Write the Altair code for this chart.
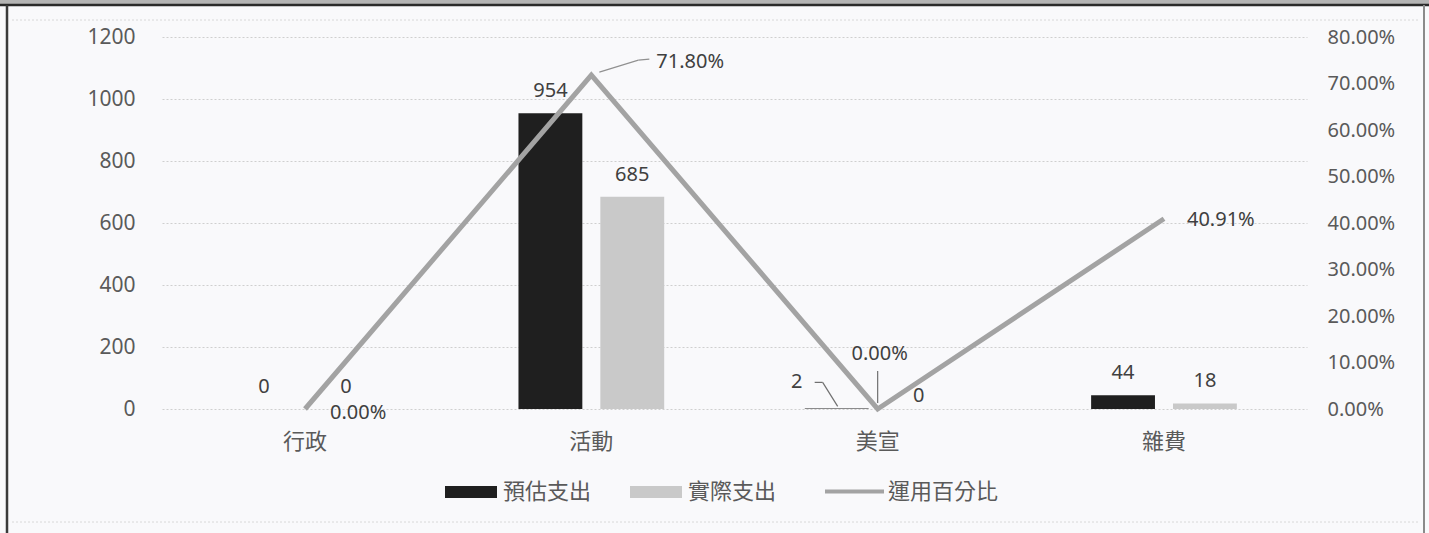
import altair as alt
import pandas as pd

categories = ["行政", "活動", "美宣", "雜費"]
estimated = [0, 954, 2, 44]
actual = [0, 685, 0, 18]
usage_pct = [0.0, 0.718, 0.0, 0.4091]
pct_labels = ["0.00%", "71.80%", "0.00%", "40.91%"]
series_names = ["預估支出", "實際支出"]
line_name = "運用百分比"
left_ticks = [0, 200, 400, 600, 800, 1000, 1200]
right_ticks = [0, 0.1, 0.2, 0.3, 0.4, 0.5, 0.6, 0.7, 0.8]

bars_df = pd.DataFrame({
    "cat": categories * 2,
    "series": [series_names[0]] * 4 + [series_names[1]] * 4,
    "value": estimated + actual,
})
line_df = pd.DataFrame({
    "cat": categories,
    "pct": usage_pct,
    "label": pct_labels,
    "series": [line_name] * 4,
})
one = pd.DataFrame({"k": [0]})

NUM_FONT = "Noto Sans"
CJK_FONT = "Noto Sans CJK TC"
AX_COL = "#5a5a5a"
LBL_COL = "#404040"
LINE_COL = "#a3a3a3"

W, H = 1145, 372
PL, PT = 162, 37

x_enc = alt.X(
    "cat:N", sort=categories, title=None,
    scale=alt.Scale(paddingInner=0.491, paddingOuter=0.245),
    axis=alt.Axis(labelFont=CJK_FONT, labelFontSize=22, labelColor=AX_COL,
                  labelPadding=22, domain=False, ticks=False, labelAngle=0),
)
xoff_enc = alt.XOffset("series:N", sort=series_names,
                       scale=alt.Scale(paddingInner=0.22, paddingOuter=0))
y_left = alt.Y(
    "value:Q", title=None,
    scale=alt.Scale(domain=[0, 1200], nice=False),
    axis=alt.Axis(values=left_ticks, format="d", labelFont=NUM_FONT, labelFontSize=21,
                  labelColor=AX_COL, labelPadding=27, domain=False, ticks=False,
                  grid=True, gridColor="#cfcfcf", gridDash=[2, 2], gridWidth=1),
)
y_right = alt.Y(
    "pct:Q", title=None,
    scale=alt.Scale(domain=[0, 0.8], nice=False),
    axis=alt.Axis(values=right_ticks, format=".2%", orient="right",
                  labelFont=NUM_FONT, labelFontSize=20, labelColor=AX_COL,
                  labelPadding=20, domain=False, ticks=False, grid=False),
)

bars = alt.Chart(bars_df).mark_bar().encode(
    x=x_enc, xOffset=xoff_enc, y=y_left,
    color=alt.Color(
        "series:N", sort=series_names,
        scale=alt.Scale(domain=series_names, range=["#1f1f1f", "#c9c9c9"]),
        legend=alt.Legend(
            title=None, orient="none", direction="horizontal",
            legendX=445 - PL, legendY=466 - PT, padding=0,
            symbolType="M-1,-0.23L1,-0.23L1,0.23L-1,0.23Z", symbolSize=2704,
            symbolStrokeWidth=0, labelFont=CJK_FONT, labelFontSize=22,
            labelColor=AX_COL, labelOffset=6, columnPadding=38,
        ),
    ),
)

bar_text = alt.Chart(bars_df).transform_filter(
    alt.datum.cat != "美宣"
).mark_text(font=NUM_FONT, fontSize=20, color=LBL_COL, dy=-22, baseline="middle").encode(
    x=x_enc, xOffset=xoff_enc, y=y_left, text=alt.Text("value:Q")
)

mei_est = alt.Chart(bars_df).transform_filter(
    (alt.datum.cat == "美宣") & (alt.datum.series == series_names[0])
).mark_text(font=NUM_FONT, fontSize=20, color=LBL_COL, dx=-40, dy=-26, baseline="middle").encode(
    x=x_enc, xOffset=xoff_enc, y=y_left, text=alt.Text("value:Q")
)
mei_act = alt.Chart(bars_df).transform_filter(
    (alt.datum.cat == "美宣") & (alt.datum.series == series_names[1])
).mark_text(font=NUM_FONT, fontSize=20, color=LBL_COL, dy=-13, baseline="middle").encode(
    x=x_enc, xOffset=xoff_enc, y=y_left, text=alt.Text("value:Q")
)
mei_base = alt.Chart(bars_df).transform_filter(
    (alt.datum.cat == "美宣") & (alt.datum.series == series_names[0])
)
mei_lead1 = mei_base.mark_rule(color="#707070", strokeWidth=1.2,
                               xOffset=-40, yOffset=-2, x2Offset=-55, y2Offset=-26).encode(
    x=x_enc, x2="cat:N", y=y_left, y2="value:Q")
mei_lead2 = mei_base.mark_rule(color="#707070", strokeWidth=1.2,
                               xOffset=-55, yOffset=-26, x2Offset=-63, y2Offset=-26).encode(
    x=x_enc, x2="cat:N", y=y_left, y2="value:Q")

bar_group = alt.layer(bars, bar_text, mei_est, mei_act, mei_lead1, mei_lead2)

line = alt.Chart(line_df).mark_line(strokeWidth=5, strokeJoin="miter").encode(
    x=x_enc, y=y_right,
    stroke=alt.Stroke(
        "series:N",
        scale=alt.Scale(domain=[line_name], range=[LINE_COL]),
        legend=alt.Legend(
            title=None, orient="none", direction="horizontal",
            legendX=823 - PL, legendY=460 - PT, padding=0,
            symbolType="stroke", symbolSize=3481, symbolStrokeWidth=4,
            labelFont=CJK_FONT, labelFontSize=22, labelColor=AX_COL, labelOffset=2,
        ),
    ),
)

def pct_text(cat, dx, dy, align):
    return alt.Chart(line_df).transform_filter(alt.datum.cat == cat).mark_text(
        font=NUM_FONT, fontSize=20, color=LBL_COL, dx=dx, dy=dy, align=align,
        baseline="middle").encode(x=x_enc, y=y_right, text="label:N")

t1 = pct_text("行政", 25, 4, "left")
t2 = pct_text("活動", 65, -13, "left")
t3 = pct_text("美宣", 2, -55, "center")
t4 = pct_text("雜費", 23, 1, "left")

huo = alt.Chart(line_df).transform_filter(alt.datum.cat == "活動")
lead_a = huo.mark_rule(color="#909090", strokeWidth=1.2,
                       xOffset=8, yOffset=-3, x2Offset=47, y2Offset=-15).encode(
    x=x_enc, x2="cat:N", y=y_right, y2="pct:Q")
lead_b = huo.mark_rule(color="#909090", strokeWidth=1.2,
                       xOffset=47, yOffset=-15, x2Offset=58, y2Offset=-16).encode(
    x=x_enc, x2="cat:N", y=y_right, y2="pct:Q")
mei = alt.Chart(line_df).transform_filter(alt.datum.cat == "美宣")
lead_c = mei.mark_rule(color="#707070", strokeWidth=1.2,
                       yOffset=-38, y2Offset=-6).encode(
    x=x_enc, x2="cat:N", y=y_right, y2="pct:Q")

line_group = alt.layer(line, t1, t2, t3, t4, lead_a, lead_b, lead_c)

# frame decoration (outside the plot area)
deco_band = alt.Chart(one).mark_rect(color="#b4b4b4").encode(
    x=alt.value(-PL), x2=alt.value(1429 - PL), y=alt.value(-PT), y2=alt.value(4 - PT))
deco_top = alt.Chart(one).mark_rule(color="#2a2a2a", strokeWidth=2.5).encode(
    x=alt.value(-PL), x2=alt.value(1429 - PL), y=alt.value(5 - PT))
deco_left = alt.Chart(one).mark_rule(color="#3a3a3a", strokeWidth=2.5).encode(
    x=alt.value(7 - PL), y=alt.value(5 - PT), y2=alt.value(533 - PT))
deco_right = alt.Chart(one).mark_rule(color="#8a8a8a", strokeWidth=2).encode(
    x=alt.value(1424 - PL), y=alt.value(5 - PT), y2=alt.value(533 - PT))
deco_inner_top = alt.Chart(one).mark_rule(color="#d8d8d8", strokeWidth=1, strokeDash=[2, 2]).encode(
    x=alt.value(12 - PL), x2=alt.value(1420 - PL), y=alt.value(20 - PT))
deco_inner_bot = alt.Chart(one).mark_rule(color="#d8d8d8", strokeWidth=1, strokeDash=[2, 2]).encode(
    x=alt.value(12 - PL), x2=alt.value(1420 - PL), y=alt.value(522 - PT))
deco = alt.layer(deco_band, deco_top, deco_left, deco_right, deco_inner_top, deco_inner_bot)

chart = alt.layer(deco, bar_group, line_group).resolve_scale(
    y="independent"
).properties(
    width=W, height=H,
    padding={"left": PL, "top": PT, "right": 1429 - PL - W, "bottom": 533 - PT - H},
    autosize=alt.AutoSizeParams(type="none"),
    background="#f9f9fb",
).configure_view(stroke=None)

chart.save("out.html", embed_options={"renderer": "svg", "actions": False})
